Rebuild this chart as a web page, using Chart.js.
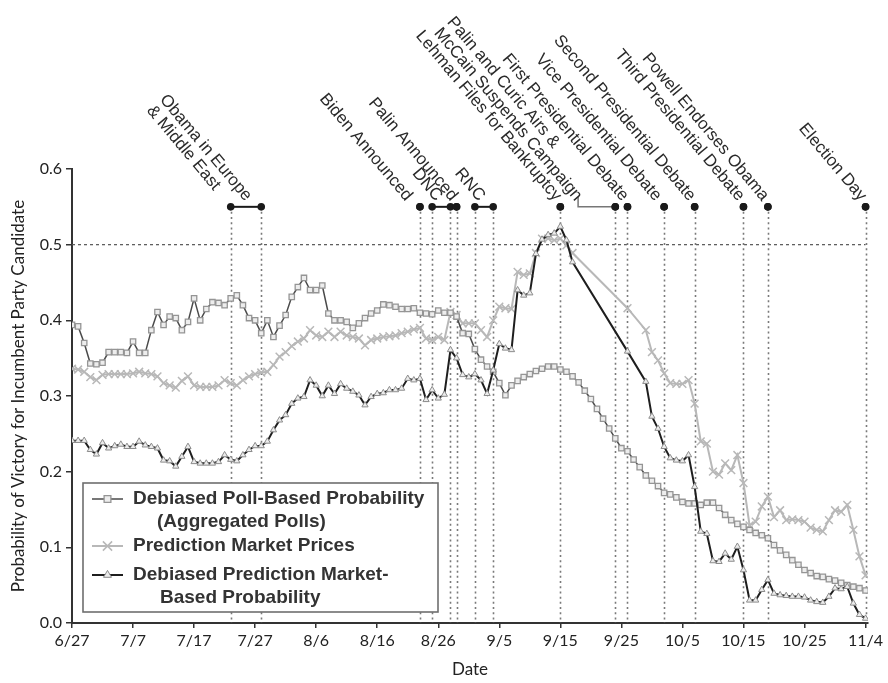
<!DOCTYPE html>
<html>
<head>
<meta charset="utf-8">
<script src="https://cdn.jsdelivr.net/npm/chart.js@4.4.0/dist/chart.umd.min.js"></script>
<style>
html,body{margin:0;padding:0;background:#fff;}
#wrap{width:888px;height:683px;position:relative;}
</style>
</head>
<body>
<div id="wrap"><canvas id="c" width="888" height="683"></canvas></div>
<script>
// ---- Data (day index 0 = 6/27/2008, one value per day through 11/4) ----
const xTickLabels = ['6/27','7/7','7/17','7/27','8/6','8/16','8/26','9/5','9/15','9/25','10/5','10/15','10/25','11/4'];

const pollProb = [
0.394,0.392,0.370,0.343,0.342,0.344,0.358,0.358,0.358,0.357,
0.372,0.357,0.357,0.387,0.411,0.394,0.405,0.403,0.387,0.398,
0.429,0.400,0.415,0.424,0.423,0.420,0.429,0.433,0.420,0.403,
0.400,0.383,0.400,0.378,0.393,0.407,0.431,0.444,0.456,0.440,
0.440,0.446,0.409,0.400,0.400,0.398,0.390,0.396,0.403,0.409,
0.413,0.421,0.420,0.418,0.415,0.415,0.416,0.410,0.409,0.408,
0.413,0.410,0.410,0.405,0.383,0.382,0.362,0.348,0.339,0.332,
0.317,0.301,0.314,0.320,0.325,0.329,0.333,0.336,0.339,0.339,
0.335,0.332,0.326,0.318,0.307,0.296,0.283,0.270,0.257,0.244,
0.231,0.227,0.216,0.206,0.195,0.188,0.181,0.172,0.170,0.166,
0.160,0.158,0.158,0.156,0.159,0.159,0.152,0.143,0.136,0.131,
0.127,0.123,0.119,0.116,0.112,0.103,0.096,0.090,0.083,0.077,
0.070,0.066,0.062,0.061,0.058,0.056,0.053,0.050,0.048,0.046,
0.043];

const marketPrices = [
0.336,0.335,0.332,0.325,0.321,0.328,0.329,0.329,0.329,0.329,
0.330,0.332,0.330,0.329,0.326,0.317,0.314,0.311,0.320,0.326,
0.314,0.312,0.312,0.312,0.314,0.321,0.317,0.314,0.321,0.326,
0.329,0.331,0.332,0.341,0.352,0.358,0.366,0.372,0.376,0.387,
0.380,0.378,0.385,0.378,0.385,0.380,0.378,0.376,0.367,0.374,
0.376,0.378,0.379,0.380,0.383,0.385,0.388,0.390,0.376,0.374,
0.378,0.374,0.411,0.407,0.396,0.396,0.396,0.387,0.378,0.400,
0.418,0.416,0.415,0.464,0.460,0.462,0.489,0.508,0.508,0.506,
0.508,0.499,0.489,null,null,null,null,null,null,null,
null,0.416,null,null,0.387,0.358,0.347,0.330,0.317,0.316,
0.316,0.321,0.290,0.240,0.237,0.200,0.196,0.211,0.202,0.222,
0.185,0.129,0.134,0.154,0.167,0.140,0.149,0.136,0.137,0.136,
0.134,0.126,0.123,0.121,0.136,0.149,0.147,0.156,0.123,0.088,
0.063];

const debiasedMarket = [
0.241,0.241,0.241,0.229,0.223,0.238,0.231,0.234,0.236,0.233,
0.233,0.240,0.235,0.233,0.231,0.215,0.214,0.207,0.220,0.233,
0.213,0.211,0.211,0.211,0.213,0.222,0.216,0.214,0.222,0.229,
0.234,0.234,0.240,0.255,0.268,0.275,0.290,0.297,0.299,0.321,
0.314,0.300,0.314,0.303,0.316,0.310,0.306,0.301,0.288,0.299,
0.303,0.304,0.308,0.308,0.310,0.323,0.321,0.323,0.295,0.308,
0.297,0.302,0.361,0.350,0.328,0.325,0.329,0.321,0.303,0.334,
0.369,0.363,0.361,0.440,0.433,0.436,0.488,0.507,0.513,0.515,
0.524,0.506,0.477,null,null,null,null,null,null,null,
null,0.359,null,null,0.319,0.273,0.257,0.233,0.218,0.215,
0.214,0.222,0.180,0.121,0.118,0.082,0.081,0.092,0.084,0.101,
0.070,0.030,0.030,0.044,0.057,0.039,0.037,0.036,0.035,0.035,
0.034,0.030,0.028,0.027,0.035,0.046,0.045,0.048,0.026,0.011,
0.006];

// Events (day index from 6/27)
const eventLabels = [
  ['Obama in Europe','& Middle East'],
  ['Biden Announced'],
  ['DNC'],
  ['Palin Announced'],
  ['RNC'],
  ['Lehman Files for Bankruptcy'],
  ['Palin and Curic Airs &','McCain Suspends Campaign'],
  ['First Presidential Debate'],
  ['Vice Presidential Debate'],
  ['Second Presidential Debate'],
  ['Third Presidential Debate'],
  ['Powell Endorses Obama'],
  ['Election Day']
];
const eventStart   = [26, 57, 59, 63, 66, 80, 89, 91, 97, 102, 110, 114, 130];
const eventEnd     = [31, 57, 62, 63, 69, 80, 89, 91, 97, 102, 110, 114, 130];
const eventLabelAt = [29.3, 55.6, 60.5, 63, 67.5, 80, 83.4, 91, 96.4, 102, 110, 114, 130];
const eventLevel = 0.55;
const refLevel = 0.5;

const seriesNames = ['Debiased Poll-Based Probability\n(Aggregated Polls)', 'Prediction Market Prices', 'Debiased Prediction Market-\nBased Probability'];

// ---- Build datasets ----
const toXY = arr => arr.map((v,i) => ({x:i, y:v}));

const dsPoll = {
  label: seriesNames[0], data: toXY(pollProb), order: 2,
  borderColor:'#4a4a4a', borderWidth:1.5,
  pointStyle:'rect', pointRadius:3.8, pointBorderColor:'#959595', pointBackgroundColor:'#ededed', pointBorderWidth:1.3
};
const dsMarket = {
  label: seriesNames[1], data: toXY(marketPrices), order: 3,
  borderColor:'#b8b8b8', borderWidth:2,
  pointStyle:'crossRot', pointRadius:5.5, pointBorderColor:'#b8b8b8', pointBackgroundColor:'#b8b8b8', pointBorderWidth:1.5
};
const dsDebiased = {
  label: seriesNames[2], data: toXY(debiasedMarket), order: 1,
  borderColor:'#1e1e1e', borderWidth:2,
  pointStyle:'triangle', pointRadius:3.6, pointBorderColor:'#8c8c8c', pointBackgroundColor:'#ececec', pointBorderWidth:1
};

const LABEL_FONT = '17px "Liberation Sans", Arial, sans-serif';
const LEGEND_FONT = 'bold 19px "Liberation Sans", Arial, sans-serif';

const eventsPlugin = {
  id: 'events',
  beforeDatasetsDraw(chart) {
    const {ctx, chartArea, scales:{x, y}} = chart;
    ctx.save();
    ctx.strokeStyle = '#555'; ctx.lineWidth = 1.2; ctx.setLineDash([3,3]);
    ctx.beginPath();
    ctx.moveTo(chartArea.left, y.getPixelForValue(refLevel));
    ctx.lineTo(x.getPixelForValue(eventStart[eventStart.length-1]), y.getPixelForValue(refLevel));
    ctx.stroke();
    ctx.strokeStyle = '#7a7a7a'; ctx.lineWidth = 1.6; ctx.setLineDash([2,3.2]);
    const days = new Set();
    eventStart.forEach((d,i)=>{days.add(d); days.add(eventEnd[i]);});
    const yTop = y.getPixelForValue(eventLevel) + 5;
    days.forEach(d => {
      const px = Math.round(x.getPixelForValue(d)) + 0.5;
      ctx.beginPath(); ctx.moveTo(px, yTop); ctx.lineTo(px, chartArea.bottom); ctx.stroke();
    });
    ctx.restore();
  },
  afterDatasetsDraw(chart) {
    const {ctx, scales:{x, y}} = chart;
    const yy = y.getPixelForValue(eventLevel);
    ctx.save();
    ctx.strokeStyle = '#1a1a1a'; ctx.lineWidth = 2;
    eventStart.forEach((s,i) => {
      if (eventEnd[i] !== s) {
        ctx.beginPath(); ctx.moveTo(x.getPixelForValue(s), yy); ctx.lineTo(x.getPixelForValue(eventEnd[i]), yy); ctx.stroke();
      }
    });
    ctx.strokeStyle = '#777'; ctx.lineWidth = 1.5;
    eventStart.forEach((s,i) => {
      if (Math.abs(eventLabelAt[i] - s) > 3 && eventEnd[i] === s) {
        const lx = x.getPixelForValue(eventLabelAt[i]) - 3;
        ctx.beginPath(); ctx.moveTo(lx, yy - 10); ctx.lineTo(lx, yy); ctx.lineTo(x.getPixelForValue(s), yy); ctx.stroke();
      }
    });
    ctx.fillStyle = '#1a1a1a';
    eventStart.forEach((s,i) => {
      [s, eventEnd[i]].forEach(d => {
        ctx.beginPath(); ctx.arc(x.getPixelForValue(d), yy, 3.8, 0, Math.PI*2); ctx.fill();
      });
    });
    ctx.font = LABEL_FONT; ctx.fillStyle = '#2a2a2a';
    ctx.textAlign = 'left'; ctx.textBaseline = 'alphabetic';
    eventLabels.forEach((lines,i) => {
      const widths = lines.map(l => ctx.measureText(l).width);
      const maxW = Math.max(...widths);
      const k = widths.indexOf(maxW);
      ctx.save();
      ctx.translate(x.getPixelForValue(eventLabelAt[i]) - 6, yy - 5);
      ctx.rotate(50 * Math.PI / 180);
      lines.forEach((l,j) => ctx.fillText(l, -maxW, (j - k) * 17));
      ctx.restore();
    });
    ctx.restore();
  },
  afterDraw(chart) {
    const {ctx, chartArea} = chart;
    const bx = chartArea.left + 11, by = chartArea.bottom - 140, bw = 355, bh = 129;
    ctx.save();
    ctx.fillStyle = '#fff';
    ctx.fillRect(bx, by, bw, bh);
    ctx.strokeStyle = '#6e6e6e'; ctx.lineWidth = 1.6;
    ctx.strokeRect(bx, by, bw, bh);
    const sets = [dsPoll, dsMarket, dsDebiased];
    const rowY = [by + 16, by + 63, by + 92];
    const lineGap = 23;
    sets.forEach((ds, i) => {
      const cy = rowY[i];
      const x0 = bx + 9, x1 = bx + 40, xm = (x0 + x1) / 2;
      ctx.strokeStyle = ds.borderColor; ctx.lineWidth = ds.borderWidth;
      ctx.setLineDash([]);
      ctx.beginPath(); ctx.moveTo(x0, cy); ctx.lineTo(x1, cy); ctx.stroke();
      ctx.strokeStyle = ds.pointBorderColor; ctx.fillStyle = ds.pointBackgroundColor;
      ctx.lineWidth = ds.pointBorderWidth;
      Chart.helpers.drawPoint(ctx, {pointStyle: ds.pointStyle, radius: ds.pointRadius + 1, rotation: 0, borderWidth: ds.pointBorderWidth}, xm, cy);
      ctx.fillStyle = '#333'; ctx.font = LEGEND_FONT;
      ctx.textAlign = 'left'; ctx.textBaseline = 'middle';
      const lines = ds.label.split('\n');
      lines.forEach((l, j) => {
        const tx = j === 0 ? bx + 50 : bx + 50 + (i === 0 ? 24 : 27);
        ctx.fillText(l, tx, cy + j * lineGap);
      });
    });
    ctx.restore();
  }
};

new Chart(document.getElementById('c'), {
  type: 'line',
  data: { datasets: [dsDebiased, dsPoll, dsMarket] },
  options: {
    responsive: false,
    animation: false,
    devicePixelRatio: 1,
    spanGaps: true,
    elements: { line: { tension: 0 } },
    layout: { padding: { top: 169, right: 20, left: 0, bottom: 0 } },
    plugins: { legend: { display: false }, tooltip: { enabled: false } },
    scales: {
      x: {
        type: 'linear', min: 0, max: 130.4,
        afterBuildTicks: s => { s.ticks = xTickLabels.map((_, i) => ({ value: i * 10 })); },
        afterFit: s => { s.height = 60; },
        ticks: {
          autoSkip: false, maxRotation: 0, padding: 3,
          font: { family: 'Lato', size: 16 }, color: '#222',
          callback: v => xTickLabels[Math.round(v / 10)]
        },
        grid: { drawOnChartArea: false, drawTicks: true, tickLength: 5, color: '#333', lineWidth: 1.5 },
        border: { display: true, color: '#333', width: 2 },
        title: { display: true, text: 'Date', font: { family: 'Lato', size: 17 }, color: '#222', padding: { top: 0, bottom: 3 } }
      },
      y: {
        min: 0, max: 0.6,
        afterFit: s => { s.width = 72; },
        ticks: {
          stepSize: 0.1, padding: 4,
          font: { family: 'Lato', size: 16 }, color: '#222',
          callback: v => v.toFixed(1)
        },
        grid: { drawOnChartArea: false, drawTicks: true, tickLength: 6, color: '#333', lineWidth: 1.5 },
        border: { display: true, color: '#333', width: 2 },
        title: { display: true, text: 'Probability of Victory for Incumbent Party Candidate', font: { family: 'Lato', size: 17 }, color: '#222', padding: { top: 8, bottom: 0 } }
      }
    }
  },
  plugins: [eventsPlugin]
});
</script>
</body>
</html>
